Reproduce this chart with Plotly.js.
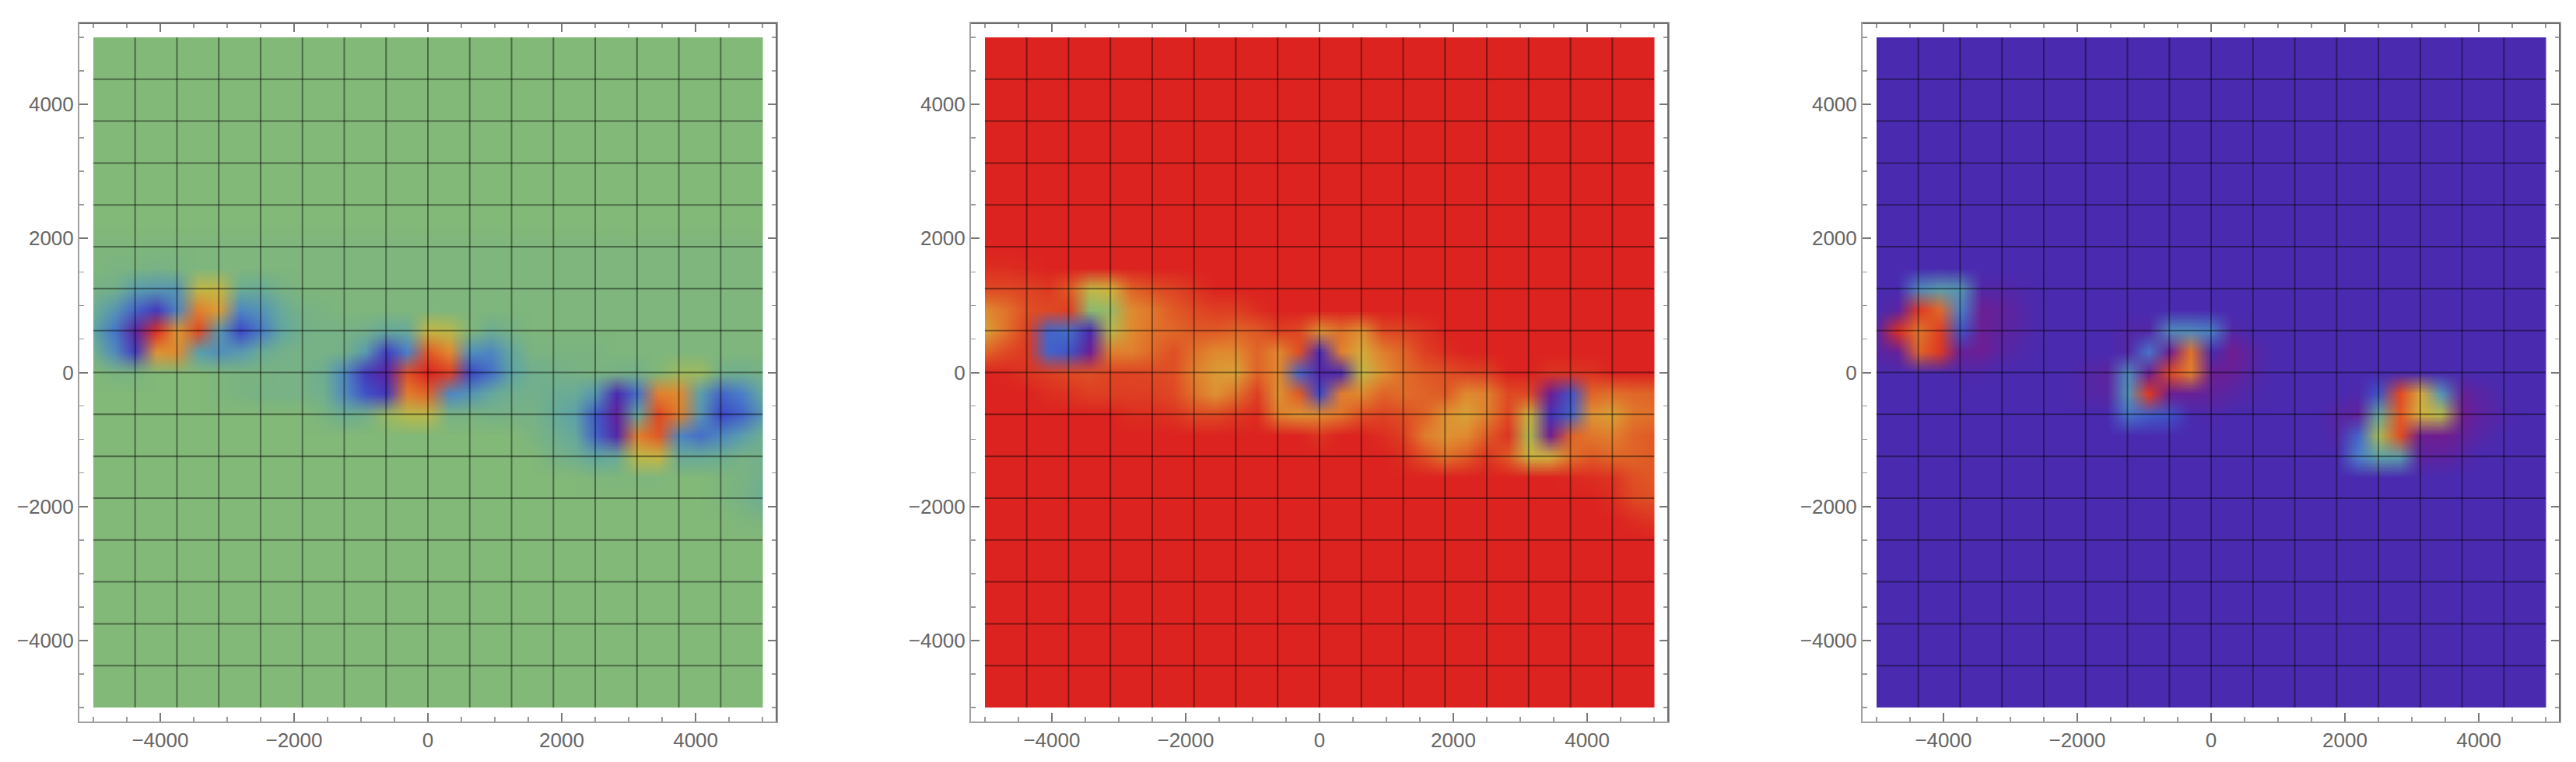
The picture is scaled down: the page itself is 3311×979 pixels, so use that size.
<!DOCTYPE html>
<html><head><meta charset="utf-8">
<script src="https://cdn.plot.ly/plotly-3.0.1.min.js"></script>
<style>html,body{margin:0;padding:0;background:#fff}#c{width:3311px;height:979px}</style></head>
<body><div id="c"></div>
<script>
// node spacing of the value grids: rows run top-down from y=5000, columns left-right from x=-5000
const gridStart = -5000, gridEnd = 5000, gridStep = 312.5;
const meshLines = [-4375,-3750,-3125,-2500,-1875,-1250,-625,0,625,1250,1875,2500,3125,3750,4375];

const rainbowStops = [0,.1,.2,.3,.4,.5,.6,.7,.8,.9,1];
const rainbowColors = ['#7a1a88','#4a2bb0','#3d48c8','#4a80c8','#5fa5a5','#82b878','#b0bc50','#d4b23e','#e08a30','#e05a26','#dc2320'];

// Panel 1
const a_bg=[.5,.5,.5,.5,.5,.5,.5,.5,.5,.5,.5,.5,.5,.5,.5,.5,.5,.5,.5,.5,.5,.5,.5,.5,.5,.5,.5,.5,.5,.5,.5,.5,.5];
const a_1875=[.49,.49,.49,.49,.49,.49,.49,.49,.49,.49,.49,.49,.49,.49,.49,.49,.49,.49,.49,.49,.49,.49,.49,.49,.49,.49,.49,.49,.49,.49,.49,.49,.49];
const a_1562=[.49,.48,.48,.47,.48,.49,.49,.49,.49,.49,.49,.49,.49,.49,.49,.49,.49,.49,.49,.49,.49,.49,.49,.49,.49,.49,.49,.49,.49,.49,.49,.49,.49];
const a_1250=[.47,.46,.38,.36,.36,.64,.66,.44,.43,.47,.49,.49,.49,.49,.49,.49,.49,.49,.49,.49,.49,.49,.49,.49,.49,.49,.49,.49,.49,.49,.49,.49,.49];
const a_937=[.44,.36,.25,.15,.32,.82,.75,.32,.35,.43,.47,.48,.49,.49,.49,.49,.49,.49,.49,.49,.49,.49,.49,.49,.49,.49,.49,.49,.49,.49,.49,.49,.49];
const a_625=[.40,.28,.06,.98,.76,.93,.37,.2,.29,.41,.46,.47,.47,.46,.42,.43,.66,.62,.5,.44,.47,.49,.49,.49,.49,.49,.49,.49,.49,.49,.49,.49,.49];
const a_312=[.45,.33,.15,.78,.8,.38,.34,.37,.43,.46,.47,.47,.46,.37,.17,.3,.9,.8,.34,.32,.42,.48,.48,.48,.48,.49,.49,.49,.49,.49,.49,.49,.49];
const a_0=[.5,.48,.48,.5,.5,.5,.49,.48,.48,.47,.47,.44,.32,.15,.06,.92,1,.95,.19,.27,.4,.45,.46,.47,.48,.47,.46,.5,.56,.56,.46,.45,.47];
const a_m312=[.5,.5,.5,.5,.5,.5,.49,.48,.47,.47,.47,.45,.33,.22,.14,.83,.88,.32,.35,.42,.45,.46,.44,.43,.36,.1,.27,.82,.8,.38,.25,.3,.42];
const a_m625=[.5,.5,.5,.5,.5,.5,.5,.5,.5,.5,.5,.48,.44,.46,.55,.62,.63,.47,.48,.47,.47,.47,.43,.39,.23,.05,.42,.93,.82,.36,.2,.25,.36];
const a_m937=[.5,.5,.5,.5,.5,.5,.5,.5,.5,.5,.5,.5,.5,.5,.5,.5,.5,.5,.5,.5,.5,.48,.45,.42,.25,.08,.82,.9,.32,.27,.32,.38,.45];
const a_m1250=[.5,.5,.5,.5,.5,.5,.5,.5,.5,.5,.5,.5,.5,.5,.5,.5,.5,.5,.5,.5,.5,.5,.47,.45,.41,.43,.64,.66,.43,.43,.44,.47,.46];
const a_m1562=[.5,.5,.5,.5,.5,.5,.5,.5,.5,.5,.5,.5,.5,.5,.5,.5,.5,.5,.5,.5,.5,.5,.5,.5,.49,.49,.49,.49,.5,.5,.49,.48,.45];
const a_m1875=[.5,.5,.5,.5,.5,.5,.5,.5,.5,.5,.5,.5,.5,.5,.5,.5,.5,.5,.5,.5,.5,.5,.5,.5,.5,.5,.5,.5,.5,.5,.49,.47,.44];
const a_m2187=[.5,.5,.5,.5,.5,.5,.5,.5,.5,.5,.5,.5,.5,.5,.5,.5,.5,.5,.5,.5,.5,.5,.5,.5,.5,.5,.5,.5,.5,.5,.5,.49,.48];
const zPanel1=[a_bg,a_bg,a_bg,a_bg,a_bg,a_bg,a_bg,a_bg,a_bg,a_bg,a_1875,a_1562,a_1250,a_937,a_625,a_312,a_0,a_m312,a_m625,a_m937,a_m1250,a_m1562,a_m1875,a_m2187,a_bg,a_bg,a_bg,a_bg,a_bg,a_bg,a_bg,a_bg,a_bg];

// Panel 2
const b_bg=[1,1,1,1,1,1,1,1,1,1,1,1,1,1,1,1,1,1,1,1,1,1,1,1,1,1,1,1,1,1,1,1,1];
const b_1562=[.98,.98,.99,1,1,1,1,1,1,1,1,1,1,1,1,1,1,1,1,1,1,1,1,1,1,1,1,1,1,1,1,1,1];
const b_1250=[.93,.93,.94,.96,.9,.65,.7,.88,.92,.94,.97,1,1,1,1,1,1,1,1,1,1,1,1,1,1,1,1,1,1,1,1,1,1];
const b_937=[.8,.85,.92,.93,.95,.52,.55,.8,.84,.9,.93,.95,.95,.98,1,1,1,1,1,1,1,1,1,1,1,1,1,1,1,1,1,1,1];
const b_625=[.74,.85,.95,.25,.27,.1,.62,.8,.85,.87,.9,.9,.88,.9,.95,.93,.78,.85,.78,.93,.94,.97,1,1,1,1,1,1,1,1,1,1,1];
const b_312=[.88,.93,.96,.25,.22,.03,.82,.82,.87,.92,.85,.8,.8,.88,.8,.92,.1,.82,.72,.82,.88,.95,.98,1,1,1,1,1,1,1,1,1,1];
const b_0=[1,.99,.97,.95,.93,.92,.94,.94,.93,.92,.82,.76,.74,.88,.8,.25,.08,.1,.65,.78,.86,.9,.92,.94,.95,1,1,.97,.97,.97,1,1,1];
const b_m312=[1,1,1,.98,.97,.95,.95,.95,.95,.93,.85,.78,.85,.95,.78,.9,.2,.83,.8,.88,.86,.88,.9,.8,.82,.93,.93,.02,.22,.88,.85,.87,.88];
const b_m625=[1,1,1,1,1,1,1,.98,.98,.97,.93,.93,.96,.98,.82,.78,.8,.84,.92,.94,.92,.88,.78,.74,.82,.93,.68,.12,.25,.78,.74,.84,.85];
const b_m937=[1,1,1,1,1,1,1,1,1,1,1,1,1,1,1,1,.97,1,1,.98,.95,.83,.78,.8,.9,.97,.6,.02,.88,.84,.82,.88,.9];
const b_m1250=[1,1,1,1,1,1,1,1,1,1,1,1,1,1,1,1,1,1,1,1,.98,.92,.85,.9,.97,.9,.68,.7,.85,.9,.87,.88,.9];
const b_m1562=[1,1,1,1,1,1,1,1,1,1,1,1,1,1,1,1,1,1,1,1,1,1,1,1,1,1,1,1,.99,.98,.97,.92,.9];
const b_m1875=[1,1,1,1,1,1,1,1,1,1,1,1,1,1,1,1,1,1,1,1,1,1,1,1,1,1,1,1,1,1,.98,.93,.92];
const b_m2187=[1,1,1,1,1,1,1,1,1,1,1,1,1,1,1,1,1,1,1,1,1,1,1,1,1,1,1,1,1,1,1,.98,.96];
const zPanel2=[b_bg,b_bg,b_bg,b_bg,b_bg,b_bg,b_bg,b_bg,b_bg,b_bg,b_bg,b_1562,b_1250,b_937,b_625,b_312,b_0,b_m312,b_m625,b_m937,b_m1250,b_m1562,b_m1875,b_m2187,b_bg,b_bg,b_bg,b_bg,b_bg,b_bg,b_bg,b_bg,b_bg];

// Panel 3
const c_bg=[.1,.1,.1,.1,.1,.1,.1,.1,.1,.1,.1,.1,.1,.1,.1,.1,.1,.1,.1,.1,.1,.1,.1,.1,.1,.1,.1,.1,.1,.1,.1,.1,.1];
const c_1250=[.1,.1,.33,.38,.36,.08,.08,.09,.1,.1,.1,.1,.1,.1,.1,.1,.1,.1,.1,.1,.1,.1,.1,.1,.1,.1,.1,.1,.1,.1,.1,.1,.1];
const c_937=[.1,.06,.96,.87,.3,.03,.05,.08,.1,.1,.1,.1,.1,.1,.1,.1,.1,.1,.1,.1,.1,.1,.1,.1,.1,.1,.1,.1,.1,.1,.1,.1,.1];
const c_625=[.06,.98,.84,.95,.22,.03,.06,.08,.1,.1,.1,.1,.08,.08,.33,.33,.3,.08,.1,.1,.1,.1,.1,.1,.1,.1,.1,.1,.1,.1,.1,.1,.1];
const c_312=[.07,.04,.88,.96,.04,.03,.07,.09,.1,.1,.1,.1,.08,.28,.02,.85,.1,.02,.07,.1,.1,.1,.1,.1,.1,.1,.1,.1,.1,.1,.1,.1,.1];
const c_0=[.1,.1,.1,.1,.09,.09,.1,.1,.1,.1,.08,.06,.33,.03,.93,.82,.03,.04,.08,.1,.1,.1,.1,.1,.1,.1,.1,.1,.1,.1,.1,.1,.1];
const c_m312=[.1,.1,.1,.1,.1,.1,.1,.1,.1,.1,.08,.07,.35,.96,.03,.04,.05,.07,.09,.1,.1,.1,.1,.09,.22,.93,.72,.35,.04,.07,.1,.1,.1];
const c_m625=[.1,.1,.1,.1,.1,.1,.1,.1,.1,.1,.1,.1,.28,.24,.22,.1,.09,.1,.1,.1,.1,.1,.07,.05,.42,.9,.7,.62,.02,.06,.09,.1,.1];
const c_m937=[.1,.1,.1,.1,.1,.1,.1,.1,.1,.1,.1,.1,.1,.1,.1,.1,.1,.1,.1,.1,.1,.1,.08,.25,.58,.92,.03,.02,.05,.08,.1,.1,.1];
const c_m1250=[.1,.1,.1,.1,.1,.1,.1,.1,.1,.1,.1,.1,.1,.1,.1,.1,.1,.1,.1,.1,.1,.1,.1,.3,.4,.38,.06,.06,.08,.1,.1,.1,.1];
const zPanel3=[c_bg,c_bg,c_bg,c_bg,c_bg,c_bg,c_bg,c_bg,c_bg,c_bg,c_bg,c_bg,c_1250,c_937,c_625,c_312,c_0,c_m312,c_m625,c_m937,c_m1250,c_bg,c_bg,c_bg,c_bg,c_bg,c_bg,c_bg,c_bg,c_bg,c_bg,c_bg,c_bg];

const W = 3311, H = 979;
const panelZ = [zPanel1, zPanel2, zPanel3];
const panelOffset = 1146;
const frame = {l:102, r:998, t:30, b:927};
const inner = {l:120, r:980.5, t:48, b:909};
const colorscale = rainbowStops.map((s,i)=>[s,rainbowColors[i]]);
const lineCol = 'rgba(0,0,0,0.42)';
const font = {family:'"Liberation Sans", Arial, sans-serif', size:26, color:'#666666'};

const data = [], shapes = [];
const layout = {width:W, height:H, margin:{l:0,r:0,t:0,b:0,pad:0}, paper_bgcolor:'#fff', plot_bgcolor:'rgba(0,0,0,0)', showlegend:false, font, shapes};

panelZ.forEach((z,p)=>{
  const dx = p*panelOffset;
  const inX = 'x'+(2*p+1), inY = 'y'+(2*p+1), frX = 'x'+(2*p+2), frY = 'y'+(2*p+2);
  const key = a => a[0]+'axis'+a.slice(1);
  data.push({type:'heatmap', z, x0:gridStart, dx:gridStep, y0:gridEnd, dy:-gridStep, zmin:0, zmax:1,
    colorscale, showscale:false, zsmooth:'fast', xaxis:inX, yaxis:inY, hoverinfo:'skip'});
  const vx=[],vy=[],hx=[],hy=[];
  meshLines.forEach(m=>{vx.push(m,m,null);vy.push(gridStart,gridEnd,null);hx.push(gridStart,gridEnd,null);hy.push(m,m,null);});
  [[vx,vy],[hx,hy]].forEach(([x,y])=>data.push({type:'scatter',mode:'lines',x,y,line:{color:lineCol,width:2},xaxis:frX,yaxis:frY,hoverinfo:'skip',connectgaps:false}));

  layout[key(inX)] = {domain:[(inner.l+dx)/W,(inner.r+dx)/W], range:[gridStart,gridEnd], visible:false, anchor:inY, fixedrange:true};
  layout[key(inY)] = {domain:[1-inner.b/H,1-inner.t/H], range:[gridStart,gridEnd], visible:false, anchor:inX, fixedrange:true};
  const ax = {range:[-5208,5208], tickmode:'linear', tick0:0, dtick:2000, ticks:'inside', ticklen:11, tickwidth:2, tickcolor:'#777',
    minor:{tickmode:'linear', tick0:0, dtick:500, ticks:'inside', ticklen:6, tickwidth:1.5, tickcolor:'#999', showgrid:false},
    showgrid:false, zeroline:false, showline:true, linecolor:'#a0a0a0', linewidth:2, mirror:'ticks', tickfont:font, fixedrange:true, exponentformat:'none'};
  layout[key(frX)] = Object.assign({}, ax, {domain:[(frame.l+dx)/W,(frame.r+dx)/W], anchor:frY});
  layout[key(frY)] = Object.assign({}, ax, {domain:[1-frame.b/H,1-frame.t/H], anchor:frX});
  shapes.push({type:'line', xref:frX+' domain', yref:frY+' domain', x0:0,x1:1,y0:1,y1:1, line:{color:'#6e6e6e',width:2}});
  shapes.push({type:'line', xref:frX+' domain', yref:frY+' domain', x0:1,x1:1,y0:0,y1:1, line:{color:'#6e6e6e',width:2}});
});
Plotly.newPlot('c', data, layout, {displayModeBar:false, staticPlot:true});
</script></body></html>
